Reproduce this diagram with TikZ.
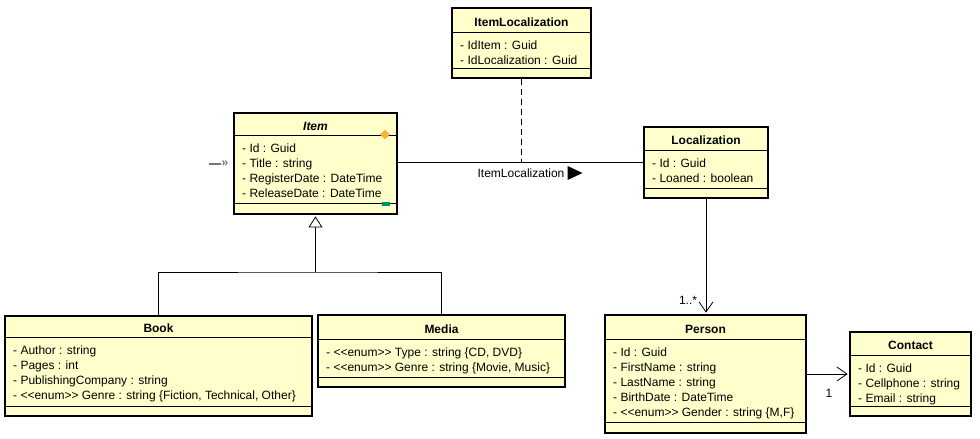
\documentclass[tikz,border=0pt]{standalone}
\usepackage{fontspec}
\setmainfont{Liberation Sans}
\usetikzlibrary{arrows.meta,shapes.geometric}
\definecolor{classfill}{RGB}{255,255,204}
\definecolor{keyorange}{RGB}{250,180,50}
\definecolor{opgreen}{RGB}{0,150,100}

\begin{document}
\begin{tikzpicture}
[x=1pt,y=-1pt,font=\fontsize{12}{15}\selectfont,
 every node/.style={inner sep=0pt},
 cls/.style={draw,line width=2.4pt,fill=classfill},
 ttl/.style={font=\fontsize{12}{15}\selectfont\bfseries,text height=8pt,text depth=0pt,yshift=-2pt},
 attr/.style={anchor=north west,align=left,execute at begin node=\strut,yshift=-2.5pt},
 sep/.style={line width=.8pt},
 assoc/.style={line width=.8pt},
 open/.style={assoc,shorten >=1.2pt,-{Straight Barb[length=10pt,width=14pt]}}]
\useasboundingbox (0,0) rectangle (980,439);

% classes
\node[cls,minimum width=163pt,minimum height=101pt] (item) at (315.5,163.5) {};
\node[cls,minimum width=139pt,minimum height=70pt] (itemloc) at (521.5,43) {};
\node[cls,minimum width=124pt,minimum height=71pt] (loc) at (706,162.5) {};
\node[cls,minimum width=201pt,minimum height=118pt] (person) at (705.5,374) {};
\node[cls,minimum width=121pt,minimum height=84pt] (contact) at (910.5,374) {};
\node[cls,minimum width=307pt,minimum height=100pt] (book) at (158.5,366) {};
\node[cls,minimum width=247pt,minimum height=72pt] (media) at (441.5,351) {};

% compartments
\draw[sep] (item.west |- 0,135) -- (item.east |- 0,135);
\draw[sep] (item.west |- 0,203) -- (item.east |- 0,203);
\draw[sep] (itemloc.west |- 0,32) -- (itemloc.east |- 0,32);
\draw[sep] (itemloc.west |- 0,68) -- (itemloc.east |- 0,68);
\draw[sep] (loc.west |- 0,150) -- (loc.east |- 0,150);
\draw[sep] (loc.west |- 0,188) -- (loc.east |- 0,188);
\draw[sep] (person.west |- 0,339) -- (person.east |- 0,339);
\draw[sep] (person.west |- 0,422) -- (person.east |- 0,422);
\draw[sep] (contact.west |- 0,355) -- (contact.east |- 0,355);
\draw[sep] (contact.west |- 0,406) -- (contact.east |- 0,406);
\draw[sep] (book.west |- 0,337) -- (book.east |- 0,337);
\draw[sep] (book.west |- 0,406) -- (book.east |- 0,406);
\draw[sep] (media.west |- 0,339) -- (media.east |- 0,339);
\draw[sep] (media.west |- 0,377) -- (media.east |- 0,377);

% titles
\node[ttl] (item-t) at (315.5,124) {\itshape Item};
\node[ttl] (itemloc-t) at (521.5,20) {ItemLocalization};
\node[ttl] (loc-t) at (706,138.5) {Localization};
\node[ttl] (person-t) at (705.5,327) {Person};
\node[ttl] (contact-t) at (910.5,343.5) {Contact};
\node[ttl] (book-t) at (158.5,326.5) {Book};
\node[ttl] (media-t) at (441.5,327) {Media};

% attributes
\node[attr] (item-a) at (242,141.5) {- Id : Guid\\- Title : string\\- RegisterDate : DateTime\\- ReleaseDate : DateTime};
\node[attr] (itemloc-a) at (460,38) {- IdItem : Guid\\- IdLocalization : Guid};
\node[attr] (loc-a) at (652,156) {- Id : Guid\\- Loaned : boolean};
\node[attr] (person-a) at (613,345) {- Id : Guid\\- FirstName : string\\- LastName : string\\- BirthDate : DateTime\\- <{}<enum>{}> Gender : string \{M,F\}};
\node[attr] (contact-a) at (858,361) {- Id : Guid\\- Cellphone : string\\- Email : string};
\node[attr] (book-a) at (13,343) {- Author : string\\- Pages : int\\- PublishingCompany : string\\- <{}<enum>{}> Genre : string \{Fiction, Technical, Other\}};
\node[attr] (media-a) at (326,345) {- <{}<enum>{}> Type : string \{CD, DVD\}\\- <{}<enum>{}> Genre : string \{Movie, Music\}};

% marks on Item
\node[diamond,fill=keyorange,minimum size=10pt] (item-key) at (385,134.5) {};
\node[fill=opgreen,minimum width=8pt,minimum height=4pt] (item-op) at (386,204) {};
\node[text=black!55,font=\fontsize{12}{15}\selectfont\bfseries] (item-dir) at (225,163.5) {»};
\coordinate (item-tail) at (209,163.5);
\draw[black!55,line width=2pt] (item-tail) -- ([xshift=-.5pt]item-dir.west);

% inheritance
\coordinate (fork) at (315.5,272);
\draw[assoc] (book.north) |- (fork) -| (media.north);
\draw[assoc,shorten >=1.2pt,-{Triangle[open,length=11pt,width=14pt,fill=white]}] (fork) -- (item.south);

% associations
\draw[assoc] (item.east |- loc.west) -- (loc.west);
\draw[assoc,dash pattern=on 6pt off 4pt] (itemloc.south) -- (itemloc.south |- loc.west);
\node (assoc-l) at (521,173) {ItemLocalization};
\fill ([xshift=3pt]assoc-l.east) ++(0,-7) -- ++(15,7) -- ++(-15,7) -- cycle;
\draw[open] (loc.south) -- (loc.south |- person.north);
\node (mult-p) at (688,300) {1..*};
\draw[open] (person.east) -- (contact.west);
\node (mult-c) at (829,393) {1};
\end{tikzpicture}
\end{document}
